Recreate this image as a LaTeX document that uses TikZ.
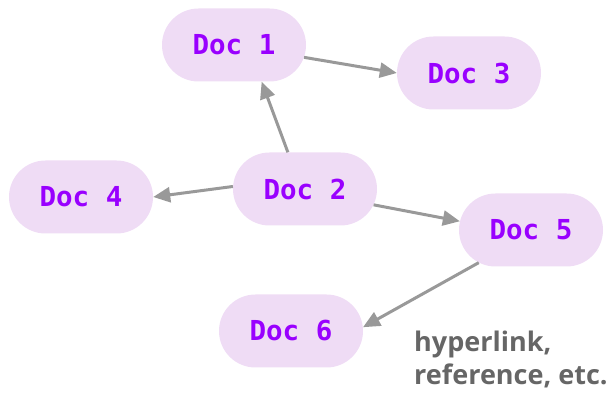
\documentclass[tikz,border=0pt]{standalone}
\usepackage{fontspec}
\usetikzlibrary{arrows.meta, shapes.misc}
\newfontfamily\docfont{DejaVu Sans Mono}
\newfontfamily\notefont{Open Sans}
\definecolor{docfill}{HTML}{EFDCF5}
\definecolor{doctext}{HTML}{9900FF}
\definecolor{linkgray}{HTML}{999999}
\definecolor{notegray}{HTML}{666666}

\tikzset{
  doc/.style={rounded rectangle, fill=docfill, text=doctext,
    minimum width=144pt, minimum height=73pt, inner sep=0pt,
    font=\docfont\bfseries\fontsize{27.5}{30}\selectfont},
  link/.style={linkgray, line width=3pt,
    -{Triangle[length=17pt, width=15pt]}}
}

\begin{document}
\begin{tikzpicture}[x=1pt, y=-1pt]

% Canvas (pixel coordinates, y downwards)
\useasboundingbox (0,0) rectangle (611,395);

% Documents
\node[doc] (doc1) at (234,45)  {Doc 1};
\node[doc] (doc3) at (469,73)  {Doc 3};
\node[doc] (doc2) at (305,189) {Doc 2};
\node[doc] (doc4) at (81,197)  {Doc 4};
\node[doc] (doc5) at (531,230) {Doc 5};
\node[doc] (doc6) at (291,331) {Doc 6};

% Links between documents
\draw[link] (doc1.-10)  -- (doc3.180);
\draw[link] (doc2.115)  -- (doc1.-53);
\draw[link] (doc2.178)  -- (doc4.0);
\draw[link] (doc2.-13)  -- (doc5.173);
\draw[link] (doc5.212)  -- (doc6.3);

% Annotation (base = last line)
\node[anchor=base west, align=left, text=notegray, inner sep=0pt,
  font=\notefont\bfseries\fontsize{27}{33}\selectfont] (note) at (414,385)
  {hyperlink,\\reference, etc.};

\end{tikzpicture}
\end{document}
